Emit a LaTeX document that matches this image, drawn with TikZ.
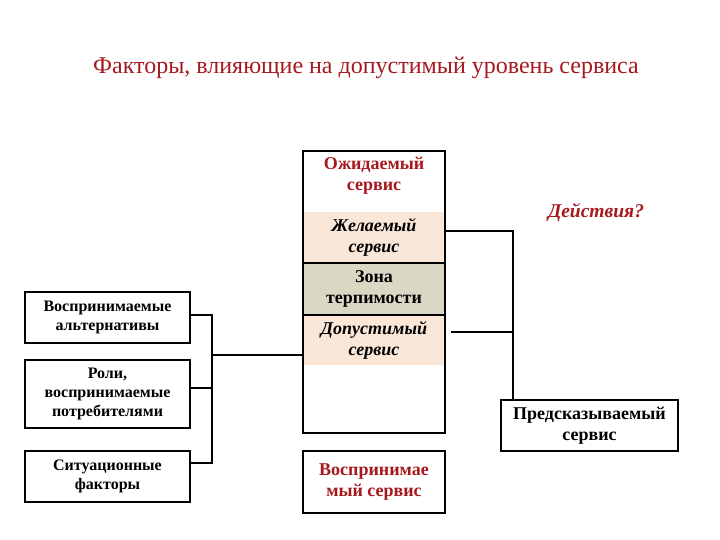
\documentclass[tikz,border=0pt]{standalone}
\usepackage{fontspec}
\setmainfont{Liberation Serif}
\usetikzlibrary{positioning}
\definecolor{darkred}{RGB}{165,25,30}
\definecolor{beige}{RGB}{251,231,216}
\definecolor{tan}{RGB}{218,216,197}

\begin{document}
\begin{tikzpicture}[x=1pt, y=-1pt,
  box/.style={draw, line width=1.8pt, fill=white, align=center, inner sep=0pt, font=\fontsize{16}{19}\selectfont\bfseries},
  band/.style={minimum width=140, inner sep=0pt, align=center, font=\fontsize{18}{21}\selectfont\bfseries\itshape},
  link/.style={line width=2pt}]
\useasboundingbox (0,0) rectangle (720,540);
\node at (366,68) (title) {\fontsize{24}{28}\selectfont\color{darkred}Факторы, влияющие на допустимый уровень сервиса};
\node[box, minimum width=142, minimum height=282] (col) at (374,292) {};
\node[band, fill=beige, minimum height=51] (des) at (374,237.5) {Желаемый\\сервис};
\node[band, fill=beige, minimum height=50] (acc) at (374,340) {Допустимый\\сервис};
\node[box, fill=tan, minimum width=142, minimum height=52, font=\fontsize{18}{21}\selectfont\bfseries] (zone) at (374,289) {Зона\\терпимости};
\node[align=center, text=darkred, font=\fontsize{18}{21}\selectfont\bfseries] (exp) at (374,176) {Ожидаемый\\сервис};
\node[box, minimum width=142, minimum height=62, text=darkred, font=\fontsize{18}{21}\selectfont\bfseries] (perc) at (374,482) {Воспринимае\\мый сервис};
\node[box, minimum width=177, minimum height=51, font=\fontsize{18}{21}\selectfont\bfseries] (pred) at (589.5,425.5) {Предсказываемый\\сервис};
\node[box, minimum width=165, minimum height=51] (alt) at (107.5,317.5) {Воспринимаемые\\альтернативы};
\node[box, minimum width=165, minimum height=68] (role) at (107.5,394) {Роли,\\воспринимаемые\\потребителями};
\node[box, minimum width=165, minimum height=51] (sit) at (107.5,476.5) {Ситуационные\\факторы};
\node[text=darkred, font=\fontsize{19.5}{23}\selectfont\bfseries\itshape] (act) at (596,213) {Действия?};
\coordinate (lj) at (212,355);
\coordinate (rj) at (513,231);
\draw[link] ([shift={(0,-2.5)}]alt.east) -| (lj);
\draw[link] ([shift={(0,-6)}]role.east) -| (lj);
\draw[link] ([shift={(0,-13.5)}]sit.east) -| (lj);
\draw[link] (lj) -- (lj -| col.west);
\draw[link] (rj -| col.east) -- (rj) -- (rj |- pred.north);
\draw[link] ([shift={(7,-8)}]acc.east) -- (rj |- 0,332);
\end{tikzpicture}
\end{document}
